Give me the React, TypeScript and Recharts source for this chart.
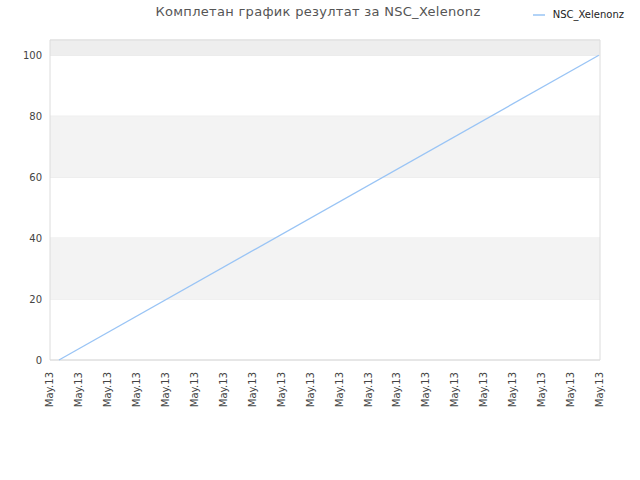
import React from "react";
import {
  LineChart,
  Line,
  XAxis,
  YAxis,
  CartesianGrid,
  ReferenceArea,
} from "recharts";

const title = "Комплетан график резултат за NSC_Xelenonz";
const seriesName = "NSC_Xelenonz";

// x positions are tick slots (0..19), all labelled with the same date
const tickLabels = [
  "May.13", "May.13", "May.13", "May.13", "May.13",
  "May.13", "May.13", "May.13", "May.13", "May.13",
  "May.13", "May.13", "May.13", "May.13", "May.13",
  "May.13", "May.13", "May.13", "May.13", "May.13",
];
const slots = [0.31, 18.96];
const scores = [0, 100];
const yTicks = [0, 20, 40, 60, 80, 100];

const data = slots.map((x, i) => ({ x, score: scores[i] }));
const xTicks = tickLabels.map((_, i) => i);

const font = "DejaVu Sans, sans-serif";
const lineColor = "#99c4f5";

export default function App() {
  return (
    <div style={{ position: "absolute", left: 0, top: 0, width: 640, height: 480, background: "#fff" }}>
      <div
        style={{
          position: "absolute",
          top: 4,
          left: 0,
          width: 636,
          textAlign: "center",
          fontFamily: font,
          fontSize: 13,
          color: "#555",
          letterSpacing: 0.3,
        }}
      >
        {title}
      </div>
      {/* legend sits outside the chart so it does not push the plot down */}
      <div
        style={{
          position: "absolute",
          top: 9,
          right: 16,
          display: "flex",
          alignItems: "center",
          fontFamily: font,
          fontSize: 10,
          color: "#222",
        }}
      >
        <svg width={12} height={4} style={{ marginRight: 8 }}>
          <line x1={0} y1={2} x2={12} y2={2} stroke={lineColor} strokeWidth={1.5} />
        </svg>
        <span>{seriesName}</span>
      </div>
      <LineChart
        width={640}
        height={480}
        data={data}
        margin={{ top: 40, right: 40, left: 0, bottom: 60 }}
      >
        <ReferenceArea y1={20} y2={40} fill="#f3f3f3" fillOpacity={1} stroke="none" ifOverflow="hidden" />
        <ReferenceArea y1={60} y2={80} fill="#f3f3f3" fillOpacity={1} stroke="none" ifOverflow="hidden" />
        <ReferenceArea y1={100} y2={105} fill="#eeeeee" fillOpacity={1} stroke="none" ifOverflow="hidden" />
        <CartesianGrid vertical={false} stroke="#e4e4e4" />
        <ReferenceArea x1={0} x2={19} y1={0} y2={105} fill="none" stroke="#dcdcdc" strokeWidth={1} />
        <XAxis
          type="number"
          dataKey="x"
          domain={[0, 19]}
          ticks={xTicks}
          interval={0}
          tickFormatter={(v: number) => tickLabels[v]}
          tick={{ fontSize: 10, fill: "#444", fontFamily: font }}
          angle={-90}
          textAnchor="end"
          dy={4}
          dx={-4}
          height={60}
          tickLine={false}
          axisLine={false}
        />
        <YAxis
          domain={[0, 105]}
          ticks={yTicks}
          tick={{ fontSize: 10, fill: "#444", fontFamily: font }}
          width={50}
          tickLine={false}
          axisLine={false}
          tickMargin={2}
        />
        <Line
          type="linear"
          dataKey="score"
          stroke={lineColor}
          strokeWidth={1.3}
          dot={false}
          isAnimationActive={false}
        />
      </LineChart>
    </div>
  );
}
